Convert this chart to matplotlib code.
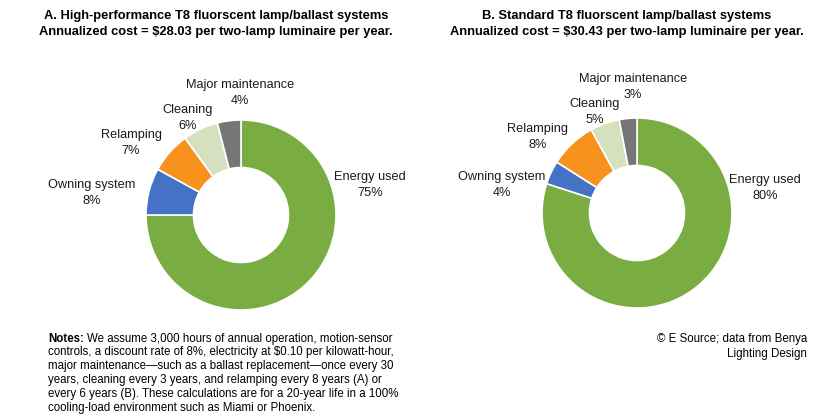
import matplotlib.pyplot as plt

plt.rcParams['font.family'] = ['Liberation Sans', 'DejaVu Sans']

# data
categories = ["Energy used", "Owning system", "Relamping", "Cleaning", "Major maintenance"]
shares_a = [75, 8, 7, 6, 4]
shares_b = [80, 4, 8, 5, 3]
colors = ["#79AD41", "#4472C4", "#F7921E", "#D5E1BE", "#767676"]

title_a = ("A. High-performance T8 fluorscent lamp/ballast systems\n"
           "Annualized cost = $28.03 per two-lamp luminaire per year.")
title_b = ("B. Standard T8 fluorscent lamp/ballast systems\n"
           "Annualized cost = $30.43 per two-lamp luminaire per year.")

notes_first = "We assume 3,000 hours of annual operation, motion-sensor"
notes_rest = ("controls, a discount rate of 8%, electricity at $0.10 per kilowatt-hour,\n"
              "major maintenance\u2014such as a ballast replacement\u2014once every 30\n"
              "years, cleaning every 3 years, and relamping every 8 years (A) or\n"
              "every 6 years (B). These calculations are for a 20-year life in a 100%\n"
              "cooling-load environment such as Miami or Phoenix.")
source = "\u00a9 E Source; data from Benya\nLighting Design"

# label positions in pixels (x, y from top), same order as categories
label_pos_a = [(370, 185), (92, 193), (131, 143), (188, 118), (240, 93)]
label_pos_b = [(765, 188), (502, 185), (538, 137), (595, 112), (633, 87)]

W, H = 832, 418
fig = plt.figure(figsize=(W / 100, H / 100), dpi=100)


def px(x, y):
    return x / W, 1 - y / H


def donut(cx, cy, r, shares, label_pos):
    ax = fig.add_axes([(cx - r) / W, 1 - (cy + r) / H, 2 * r / W, 2 * r / H])
    ax.pie(shares, colors=colors, startangle=90, counterclock=False,
           radius=1, wedgeprops=dict(width=0.5, edgecolor="white", linewidth=1.2))
    ax.set_xlim(-1, 1)
    ax.set_ylim(-1, 1)
    ax.set_aspect("equal")
    ax.axis("off")
    for name, val, (x, y) in zip(categories, shares, label_pos):
        fig.text(*px(x, y), f"{name}\n{val}%", ha="center", va="center",
                 fontsize=9.2, color="#1a1a1a", linespacing=1.4)


donut(241, 215, 95, shares_a, label_pos_a)
donut(637, 213, 95, shares_b, label_pos_b)

fig.text(*px(216, 24), title_a, ha="center", va="center", fontsize=9.3,
         fontweight="bold", linespacing=1.5)
fig.text(*px(627, 24), title_b, ha="center", va="center", fontsize=9.3,
         fontweight="bold", linespacing=1.5)

# notes: bold lead-in, then the rest of the first line right after it
lead = fig.text(*px(48, 333), "Notes:", ha="left", va="top", fontsize=8.3,
                fontweight="bold")
renderer = fig.canvas.get_renderer()
lead_w = lead.get_window_extent(renderer).width
fig.text((48 + lead_w + 3) / W, 1 - 333 / H, notes_first, ha="left", va="top",
         fontsize=8.3)
fig.text(*px(48, 346.5), notes_rest, ha="left", va="top", fontsize=8.3,
         linespacing=1.2)
fig.text(*px(807, 333), source, ha="right", va="top", fontsize=8.3,
         linespacing=1.35)

fig.savefig("out.png", dpi=100)
